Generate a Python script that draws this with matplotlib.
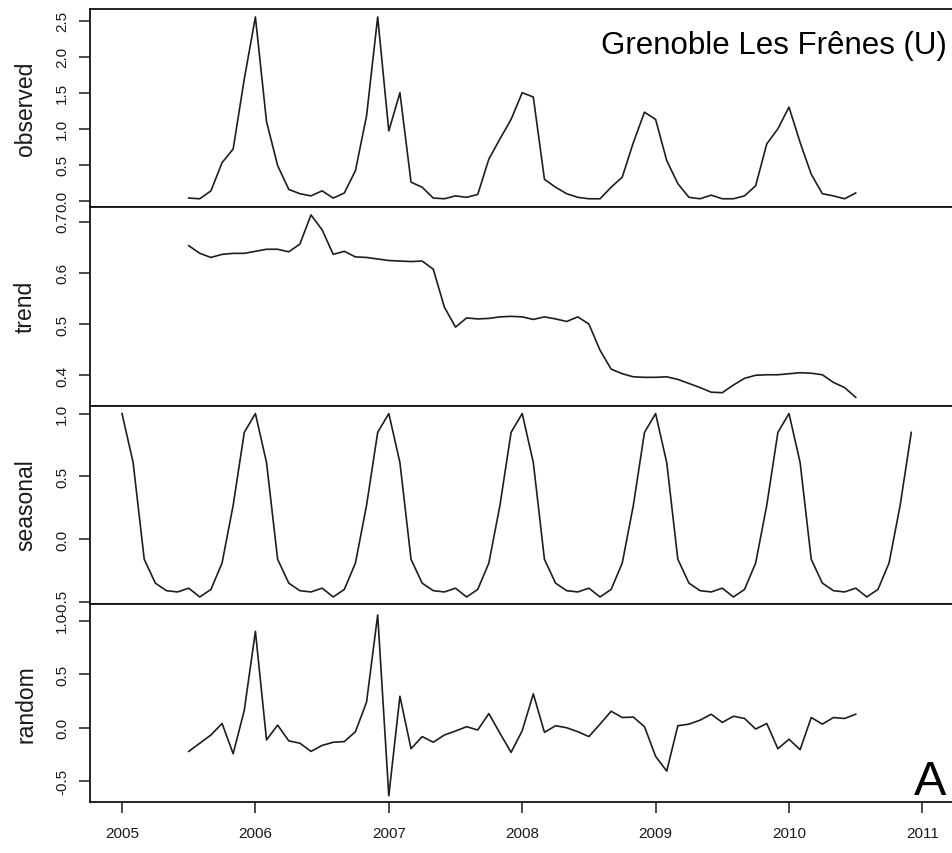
import numpy as np
import matplotlib
matplotlib.use("Agg")
import matplotlib.pyplot as plt
from matplotlib.ticker import FormatStrFormatter

plt.rcParams['font.family'] = ['Liberation Sans', 'DejaVu Sans']

# monthly series, Jul 2005 - Jul 2010
observed = [0.04, 0.03, 0.14, 0.53, 0.72, 1.69,
            2.55, 1.10, 0.49, 0.16, 0.10, 0.07, 0.14, 0.04, 0.11, 0.42, 1.18, 2.55,
            0.97, 1.50, 0.26, 0.19, 0.04, 0.03, 0.07, 0.05, 0.09, 0.58, 0.86, 1.13,
            1.50, 1.44, 0.30, 0.19, 0.10, 0.05, 0.03, 0.03, 0.19, 0.33, 0.81, 1.23,
            1.13, 0.56, 0.24, 0.05, 0.03, 0.08, 0.03, 0.03, 0.07, 0.21, 0.79, 1.00,
            1.30, 0.81, 0.37, 0.10, 0.07, 0.03, 0.11]

trend = [0.653, 0.638, 0.630, 0.636, 0.638, 0.638,
         0.642, 0.646, 0.646, 0.641, 0.656, 0.713, 0.684, 0.636, 0.642, 0.631, 0.630, 0.627,
         0.624, 0.623, 0.622, 0.623, 0.607, 0.533, 0.494, 0.512, 0.510, 0.511, 0.514, 0.515,
         0.514, 0.509, 0.514, 0.510, 0.505, 0.514, 0.500, 0.449, 0.412, 0.403, 0.397, 0.396,
         0.396, 0.397, 0.392, 0.384, 0.376, 0.367, 0.366, 0.381, 0.394, 0.400, 0.401, 0.401,
         0.403, 0.405, 0.404, 0.401, 0.386, 0.376, 0.357]

random = [-0.222, -0.145, -0.068, 0.040, -0.244, 0.164,
          0.905, -0.114, 0.025, -0.123, -0.145, -0.222, -0.166, -0.136, -0.130, -0.037, 0.241, 1.059,
          -0.639, 0.296, -0.197, -0.083, -0.136, -0.068, -0.031, 0.010, -0.021, 0.133, -0.052, -0.231,
          -0.028, 0.318, -0.043, 0.019, 0.000, -0.037, -0.083, 0.034, 0.155, 0.096, 0.100, 0.010,
          -0.268, -0.407, 0.019, 0.034, 0.071, 0.127, 0.050, 0.108, 0.087, -0.012, 0.040, -0.197,
          -0.108, -0.206, 0.096, 0.034, 0.096, 0.087, 0.127]

# Jan 2005 - Dec 2010
seasonal = [1.00, 0.61, -0.16, -0.35, -0.41, -0.42, -0.39, -0.46, -0.40, -0.19, 0.27, 0.85,
            1.00, 0.61, -0.16, -0.35, -0.41, -0.42, -0.39, -0.46, -0.40, -0.19, 0.27, 0.85,
            1.00, 0.61, -0.16, -0.35, -0.41, -0.42, -0.39, -0.46, -0.40, -0.19, 0.27, 0.85,
            1.00, 0.61, -0.16, -0.35, -0.41, -0.42, -0.39, -0.46, -0.40, -0.19, 0.27, 0.85,
            1.00, 0.61, -0.16, -0.35, -0.41, -0.42, -0.39, -0.46, -0.40, -0.19, 0.27, 0.85,
            1.00, 0.61, -0.16, -0.35, -0.41, -0.42, -0.39, -0.46, -0.40, -0.19, 0.27, 0.85]

years = [2005, 2006, 2007, 2008, 2009, 2010, 2011]

t_short = 2005.5 + np.arange(len(observed)) / 12
t_full = 2005 + np.arange(len(seasonal)) / 12

panels = [
    ("observed", t_short, observed, (-0.0875, 2.66), [0.0, 0.5, 1.0, 1.5, 2.0, 2.5]),
    ("trend", t_short, trend, (0.341, 0.728), [0.4, 0.5, 0.6, 0.7]),
    ("seasonal", t_full, seasonal, (-0.514, 1.064), [-0.5, 0.0, 0.5, 1.0]),
    ("random", t_short, random, (-0.697, 1.164), [-0.5, 0.0, 0.5, 1.0]),
]

W, H = 953, 854
fig = plt.figure(figsize=(W / 100, H / 100), dpi=100)

left, right_px = 90, 962
top, bottom = 10, 803
ph = (bottom - top) / 4
px_per_year = 133.4
x0 = 2005 - (122 - left) / px_per_year
x1 = 2005 + (right_px - 122) / px_per_year

txt = '#1a1a1a'
for i, (name, t, vals, ylim, yt) in enumerate(panels):
    ytop = top + i * ph
    ax = fig.add_axes([left / W, 1 - (ytop + ph) / H, (right_px - left) / W, ph / H])
    ax.plot(t, vals, color='#1e1e1e', lw=1.2)
    ax.set_xlim(x0, x1)
    ax.set_ylim(*ylim)
    ax.set_yticks(yt)
    ax.yaxis.set_major_formatter(FormatStrFormatter('%.1f'))
    ax.tick_params(axis='y', length=8, width=1.1, pad=7, labelsize=11,
                   labelrotation=90, colors=txt)
    for lab in ax.get_yticklabels():
        lab.set_verticalalignment('center')
    ax.set_ylabel(name, fontsize=16.5, color=txt)
    ax.yaxis.set_label_coords(-53 / (right_px - left), 0.5)
    for s in ax.spines.values():
        s.set_linewidth(1.3)
        s.set_color('#111111')
    ax.spines['right'].set_visible(False)
    if i < 3:
        ax.set_xticks([])
    else:
        ax.set_xticks(years)
        ax.set_xticklabels([str(y) for y in years])
        ax.tick_params(axis='x', length=8, width=1.1, pad=9, labelsize=11, colors=txt)

fig.text(947 / W, 1 - 46 / H, "Grenoble Les Frênes (U)", ha='right', va='center',
         fontsize=22.5, color='black')
fig.text(946 / W, 1 - 795 / H, "A", ha='right', va='baseline',
         fontsize=35, color='black')

fig.savefig("out.png", dpi=100)
